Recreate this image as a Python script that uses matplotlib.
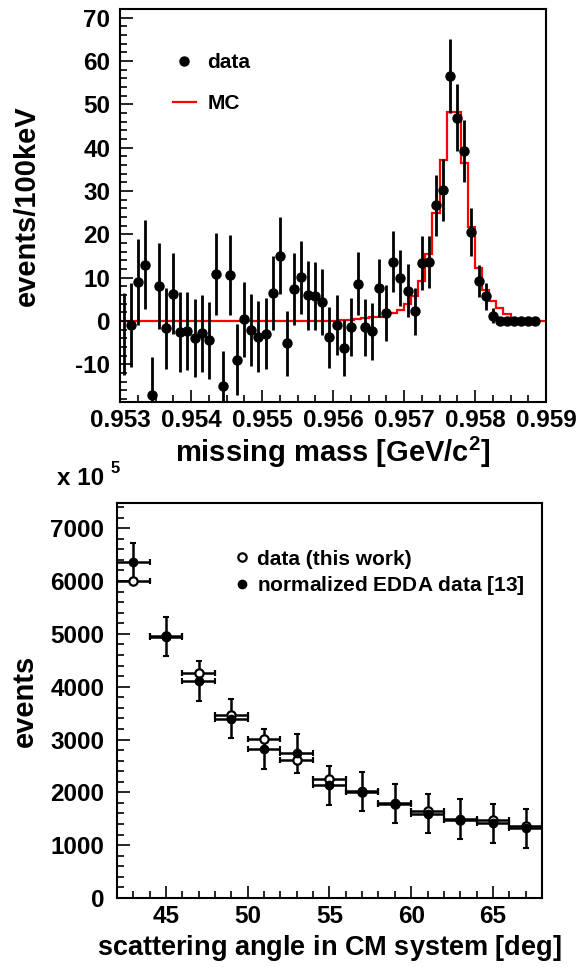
import numpy as np
import matplotlib
matplotlib.use("Agg")
import matplotlib.pyplot as plt
from matplotlib.lines import Line2D
from matplotlib.ticker import MultipleLocator, FormatStrFormatter

plt.rcParams['font.family'] = ['Liberation Sans', 'DejaVu Sans']
plt.rcParams['font.weight'] = 'bold'
plt.rcParams['mathtext.fontset'] = 'custom'
plt.rcParams['mathtext.rm'] = 'Liberation Sans'
plt.rcParams['mathtext.bf'] = 'Liberation Sans:bold'
plt.rcParams['axes.unicode_minus'] = False

# ---- top panel: missing mass spectrum (100 keV bins) ----
mm_edges = np.linspace(0.953, 0.959, 61)
mm_centers = 0.5 * (mm_edges[:-1] + mm_edges[1:])[:59]

mm_counts = [-3.0, -1.0, 9.0, 13.0, -17.0, 8.1, -1.7, 6.3, -2.5, -2.3,
             -4.0, -2.8, -4.5, 10.9, -14.9, 10.6, -9.0, 0.4, -2.1, -3.6,
             -2.9, 6.5, 15.1, -5.2, 7.4, 10.1, 5.9, 5.7, 4.3, -3.8,
             -1.0, -6.2, -1.3, 8.6, -1.5, -2.4, 7.7, 1.8, 13.7, 9.9,
             7.0, 2.2, 13.3, 13.6, 26.7, 30.2, 56.5, 46.9, 39.2, 20.6,
             9.2, 5.7, 1.2, 0.0, 0.0, 0.0, 0.0, 0.0, 0.0]
mm_errors = [9.5, 9.7, 10.0, 10.3, 8.6, 9.9, 9.3, 9.4, 9.2, 9.0,
             9.0, 8.9, 8.8, 9.5, 8.0, 9.3, 8.2, 8.7, 8.4, 8.2,
             8.2, 8.6, 8.9, 7.6, 8.3, 8.4, 8.0, 7.8, 7.6, 7.0,
             6.9, 6.5, 6.7, 7.2, 6.5, 6.5, 6.7, 6.4, 7.0, 6.4,
             6.2, 5.4, 6.2, 6.1, 7.0, 7.2, 8.5, 7.7, 7.1, 5.5,
             3.7, 3.1, 1.7, 0.0, 0.0, 0.0, 0.0, 0.0, 0.0]
mc_counts = [0.0] * 30 + [0.1, 0.2, 0.3, 0.4, 0.6, 0.8, 1.0, 1.3, 1.8, 2.6,
                          3.9, 5.7, 9.3, 15.4, 25.0, 37.2, 48.3, 48.3, 36.5, 21.7,
                          12.2, 7.1, 4.5, 2.9, 1.6, 0.3, 0.1, 0.1, 0.1, 0.1]

# ---- bottom panel: angular distribution ----
angle = [43, 45, 47, 49, 51, 53, 55, 57, 59, 61, 63, 65, 67]
angle_halfwidth = [1] * 13
this_work = [6003, 4959, 4257, 3466, 3004, 2612, 2252, 2005, 1777, 1645, 1480, 1467, 1354]
edda = [6363, 4946, 4105, 3397, 2821, 2739, 2132, 2018, 1790, 1594, 1495, 1417, 1322]
edda_err = [367, 373, 373, 373, 375, 373, 373, 373, 367, 367, 373, 370, 370]

TICK_FS = 17.5
LEG_FS = 15

fig = plt.figure(figsize=(5.84, 9.67), dpi=100)


def style_axis(ax):
    for s in ax.spines.values():
        s.set_linewidth(1.5)
    ax.tick_params(which='both', direction='in', top=False, right=False,
                   width=1.2, labelsize=TICK_FS)
    ax.tick_params(which='major', length=9)
    ax.tick_params(which='minor', length=5)
    for lab in ax.get_xticklabels() + ax.get_yticklabels():
        lab.set_fontweight('bold')


# top
ax1 = fig.add_axes([0.2055, 0.5843, 0.7295, 0.4064])
ax1.stairs(mc_counts, mm_edges, baseline=None, color='red', lw=1.6)
ax1.errorbar(mm_centers[0], mm_counts[0], yerr=mm_errors[0], fmt='none',
             ecolor='black', elinewidth=2)
ax1.errorbar(mm_centers[1:], mm_counts[1:], yerr=mm_errors[1:], fmt='o',
             color='black', ms=6.5, elinewidth=2, capsize=0)
ax1.set_xlim(0.953, 0.959)
ax1.set_ylim(-18.7, 72)
ax1.xaxis.set_major_locator(MultipleLocator(0.001))
ax1.xaxis.set_minor_locator(MultipleLocator(0.00025))
ax1.xaxis.set_major_formatter(FormatStrFormatter('%.3f'))
ax1.yaxis.set_major_locator(MultipleLocator(10))
ax1.yaxis.set_minor_locator(MultipleLocator(2))
style_axis(ax1)
ax1.tick_params(axis='y', pad=7)
ax1.tick_params(axis='x', pad=5)
ax1.set_xlabel(r'missing mass $\mathrm{[}$GeV/c$^{\mathbf{2}}$$\mathrm{]}$',
               fontsize=21, fontweight='bold', labelpad=2)
ax1.set_ylabel('events/100keV', fontsize=21, fontweight='bold', labelpad=25)
leg_data = Line2D([], [], ls='none', marker='o', color='black', ms=6.5)
leg_mc = Line2D([], [], color='red', lw=1.6)
ax1.legend([leg_data, leg_mc], ['data', 'MC'], loc='upper left',
           bbox_to_anchor=(0.08, 0.935), frameon=False,
           prop={'size': LEG_FS, 'weight': 'bold'},
           handlelength=1.1, labelspacing=1.05, handletextpad=0.55)

# bottom
ax2 = fig.add_axes([0.2003, 0.0714, 0.7277, 0.408])
ax2.errorbar(angle, this_work, xerr=angle_halfwidth, fmt='o', mfc='white',
             mec='black', mew=1.6, ms=6, ecolor='black', elinewidth=1.8,
             capsize=2.5, capthick=1.5)
ax2.errorbar(angle, edda, xerr=angle_halfwidth, yerr=edda_err, fmt='o',
             color='black', ms=6, elinewidth=1.8, capsize=2.5, capthick=1.5)
ax2.set_xlim(42, 68)
ax2.set_ylim(0, 7470)
ax2.xaxis.set_major_locator(MultipleLocator(5))
ax2.xaxis.set_minor_locator(MultipleLocator(1))
ax2.yaxis.set_major_locator(MultipleLocator(1000))
ax2.yaxis.set_minor_locator(MultipleLocator(200))
style_axis(ax2)
ax2.tick_params(axis='y', pad=9)
ax2.tick_params(axis='x', pad=5)
ax2.set_xlabel(r'scattering angle in CM system $\mathrm{[}$deg$\mathrm{]}$',
               fontsize=19.5, fontweight='bold', labelpad=4)
ax2.set_ylabel('events', fontsize=21, fontweight='bold', labelpad=8)
leg_tw = Line2D([], [], ls='none', marker='o', mfc='white', mec='black',
                mew=1.6, ms=6)
leg_edda = Line2D([], [], ls='none', marker='o', color='black', ms=6)
ax2.legend([leg_tw, leg_edda],
           ['data (this work)', 'normalized EDDA data $\\mathrm{[}$13$\\mathrm{]}$'],
           loc='upper left', bbox_to_anchor=(0.235, 0.93), frameon=False,
           prop={'size': LEG_FS, 'weight': 'bold'},
           handlelength=0.6, labelspacing=0.25, handletextpad=0.45)

fig.text(0.098, 0.505, 'x 10', fontsize=TICK_FS, fontweight='bold', ha='left', va='center')
fig.text(0.19, 0.516, '5', fontsize=12, fontweight='bold', ha='left', va='center')

fig.savefig('out.png', dpi=100)
